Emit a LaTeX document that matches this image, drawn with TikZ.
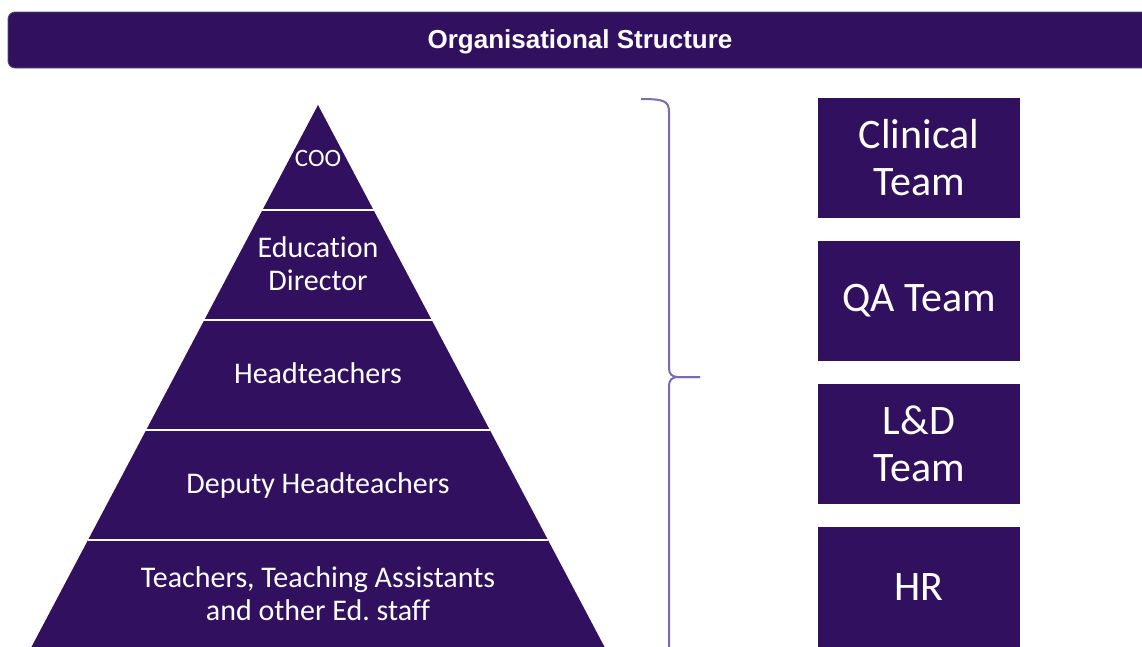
\documentclass[tikz,border=0pt]{standalone}
\usepackage{fontspec}
\setmainfont{Carlito}[Ligatures=NoCommon]
\newfontfamily\titlefont{Liberation Sans}
\definecolor{orgpurple}{HTML}{321060}
\definecolor{bracepurple}{HTML}{7C6CAE}
\definecolor{barline}{HTML}{44587A}

\begin{document}
\begin{tikzpicture}[x=1pt,y=-1pt,
  level/.style={text=white,align=center,font=\fontsize{30}{33}\selectfont},
  team/.style={fill=orgpurple,text=white,align=center,minimum width=202pt,minimum height=120pt,inner sep=0pt,font=\fontsize{42}{47}\selectfont},
  sep/.style={white,line width=2.5pt}]
 \clip (0,0) rectangle (1142,646);

 % title bar
 \draw [fill=orgpurple,draw=barline,line width=0.8pt,rounded corners=7pt] (8,12) rectangle (1170,68);
 \node (title) at (580,42) [text=white,font=\titlefont\bfseries\fontsize{26}{30}\selectfont] {Organisational Structure};

 % pyramid
 \coordinate (apex) at (318,105);
 \fill [orgpurple] (apex) -- ({318+545*0.5287},650) -- ({318-545*0.5287},650) -- cycle;
 \foreach \y in {210,320,430,540}
  \draw [sep] ({318-(\y-105)*0.5287},\y) -- ({318+(\y-105)*0.5287},\y);

 \node (coo) at (318,158) [level,font=\fontsize{25}{28}\selectfont] {COO};
 \node (edu) at (318,264) [level] {Education\\Director};
 \node (head) at (318,373) [level] {Headteachers};
 \node (deputy) at (318,485) [level] {Deputy Headteachers};
 \node (staff) at (318,594) [level] {Teachers, Teaching Assistants\\and other Ed.\ staff};

 % brace
 \coordinate (bracetop) at (641,99);
 \coordinate (bracetip) at (700,377);
 \draw [bracepurple,line width=2pt] (bracetop) .. controls (664,99) and (669,101) .. (669,112)
   -- (669,368) .. controls (669,374) and (672,377) .. (678,377) -- (bracetip);
 \draw [bracepurple,line width=2pt] (bracetip) -- (678,377) .. controls (672,377) and (669,380) .. (669,386)
   -- (669,660);

 % teams
 \node (clinical) at (919,158) [team] {Clinical\\Team};
 \node (qa) at (919,301) [team] {QA Team};
 \node (ld) at (919,444) [team] {L\&D\\Team};
 \node (hr) at (919,587) [team] {HR};
\end{tikzpicture}
\end{document}
